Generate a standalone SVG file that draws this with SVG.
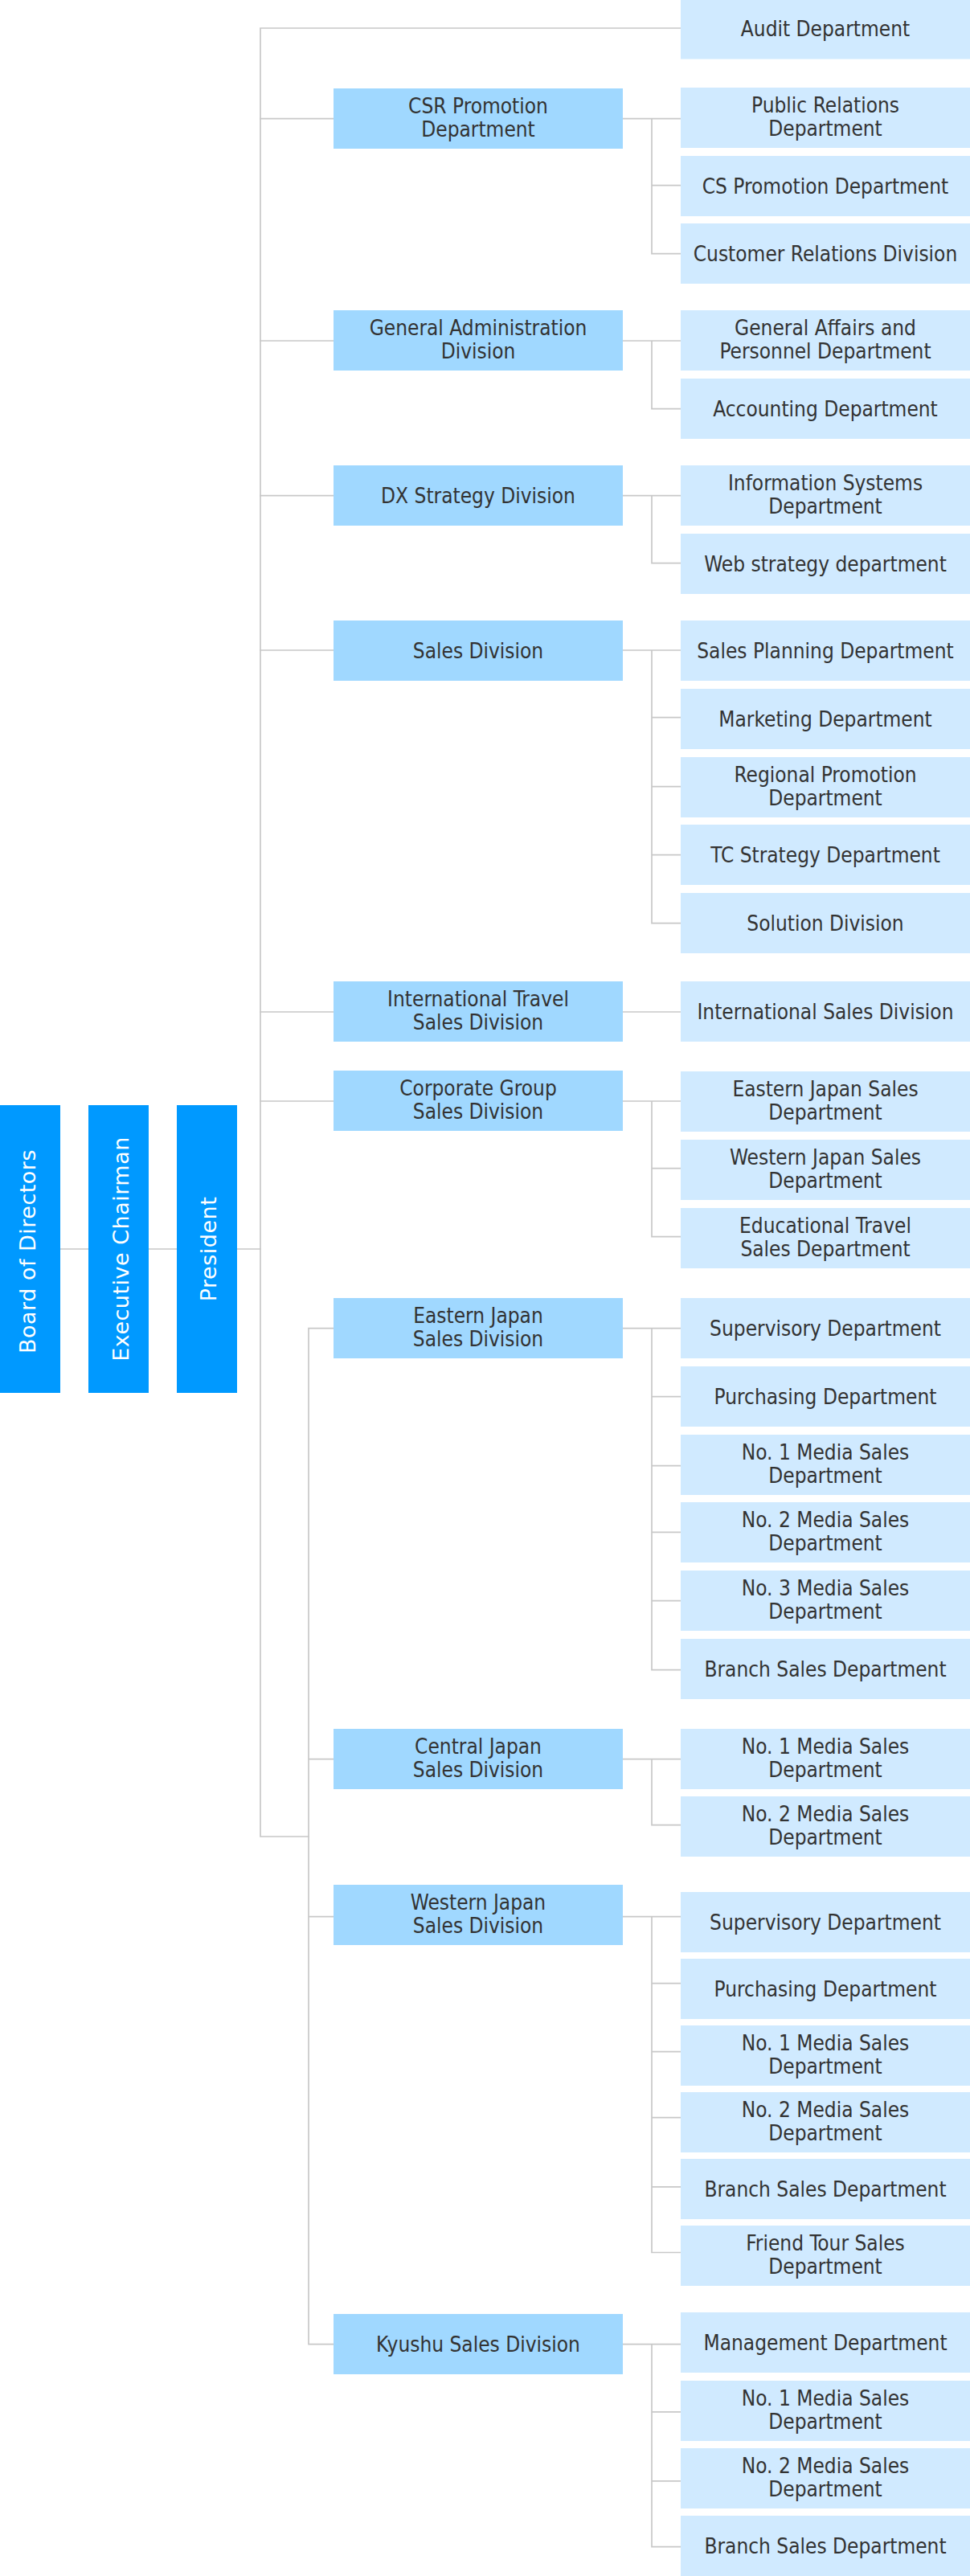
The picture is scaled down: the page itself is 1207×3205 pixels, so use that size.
<svg xmlns="http://www.w3.org/2000/svg" width="1207" height="3205" viewBox="0 0 1207 3205">
<style>
.bg{fill:#ffffff}
.top{fill:#0099ff}
.div{fill:#a0d8ff}
.dept{fill:#d0eaff}
.t{font-family:"DejaVu Sans Condensed","DejaVu Sans",sans-serif;font-stretch:condensed;font-size:26px;fill:#333333;text-anchor:middle}
.tv{font-family:"DejaVu Sans",sans-serif;font-size:27px;letter-spacing:0.5px;fill:#ffffff;text-anchor:middle}
.ln{fill:none;stroke:#c8c8c8;stroke-width:1.7;stroke-linecap:square}
</style>
<rect class="bg" x="0" y="0" width="1207" height="3205"/>
<g id="connectors" class="ln">
<path d="M75 1554H110M185 1554H220M295 1554H324"/>
<path d="M324 35V2285H384M324 35H847"/>
<path d="M324 147.7H415M324 424H415M324 616.7H415M324 809H415M324 1259H415M324 1370H415"/>
<path d="M384 1652.7V2916.7M384 1652.7H415M384 2188.7H415M384 2384.7H415M384 2916.7H415"/>
<path d="M775 147.7H847M811 147.7V315.7M811 230.7H847M811 315.7H847"/>
<path d="M775 424H847M811 424V508.7H847"/>
<path d="M775 616.7H847M811 616.7V700.7H847"/>
<path d="M775 809H847M811 809V1148.7H847M811 892.7H847M811 978.7H847M811 1063.7H847"/>
<path d="M775 1259H847"/>
<path d="M775 1370H847M811 1370V1538.7H847M811 1453.7H847"/>
<path d="M775 1652.7H847M811 1652.7V2077.7H847M811 1737.7H847M811 1823.7H847M811 1906.3H847M811 1991.7H847"/>
<path d="M775 2188.7H847M811 2188.7V2270.7H847"/>
<path d="M775 2384.7H847M811 2384.7V2802.5H847M811 2467.7H847M811 2552.7H847M811 2634.7H847M811 2720.8H847"/>
<path d="M775 2916.7H847M811 2916.7V3168.7H847M811 3000.8H847M811 3086.9H847"/>
</g>
<g id="board"><rect class="top" x="0" y="1375" width="75" height="358"/><text class="tv" transform="translate(43.5 1557) rotate(-90)">Board of Directors</text></g>
<g id="chairman"><rect class="top" x="110" y="1375" width="75" height="358"/><text class="tv" transform="translate(159.5 1554) rotate(-90)">Executive Chairman</text></g>
<g id="president"><rect class="top" x="220" y="1375" width="75" height="358"/><text class="tv" transform="translate(268.5 1554) rotate(-90)">President</text></g>

<g id="div-csr"><rect class="div" x="415" y="110" width="360" height="75"/><text class="t" x="595" y="140.5">CSR Promotion</text><text class="t" x="595" y="169.5">Department</text></g>
<g id="div-ga"><rect class="div" x="415" y="386" width="360" height="75"/><text class="t" x="595" y="416.5">General Administration</text><text class="t" x="595" y="445.5">Division</text></g>
<g id="div-dx"><rect class="div" x="415" y="579" width="360" height="75"/><text class="t" x="595" y="625.5">DX Strategy Division</text></g>
<g id="div-sales"><rect class="div" x="415" y="772" width="360" height="75"/><text class="t" x="595" y="818.5">Sales Division</text></g>
<g id="div-intl"><rect class="div" x="415" y="1221" width="360" height="75"/><text class="t" x="595" y="1251.5">International Travel</text><text class="t" x="595" y="1280.5">Sales Division</text></g>
<g id="div-corp"><rect class="div" x="415" y="1332" width="360" height="75"/><text class="t" x="595" y="1362.5">Corporate Group</text><text class="t" x="595" y="1391.5">Sales Division</text></g>
<g id="div-ejapan"><rect class="div" x="415" y="1615" width="360" height="75"/><text class="t" x="595" y="1645.5">Eastern Japan</text><text class="t" x="595" y="1674.5">Sales Division</text></g>
<g id="div-central"><rect class="div" x="415" y="2151" width="360" height="75"/><text class="t" x="595" y="2181.5">Central Japan</text><text class="t" x="595" y="2210.5">Sales Division</text></g>
<g id="div-wjapan"><rect class="div" x="415" y="2345" width="360" height="75"/><text class="t" x="595" y="2375.5">Western Japan</text><text class="t" x="595" y="2404.5">Sales Division</text></g>
<g id="div-kyushu"><rect class="div" x="415" y="2879" width="360" height="75"/><text class="t" x="595" y="2925.5">Kyushu Sales Division</text></g>

<g id="d-audit"><rect class="dept" x="847" y="-1.5" width="360" height="75"/><text class="t" x="1027" y="45">Audit Department</text></g>
<g id="d-pr"><rect class="dept" x="847" y="109" width="360" height="75"/><text class="t" x="1027" y="139.5">Public Relations</text><text class="t" x="1027" y="168.5">Department</text></g>
<g id="d-cs"><rect class="dept" x="847" y="194" width="360" height="75"/><text class="t" x="1027" y="240.5">CS Promotion Department</text></g>
<g id="d-crd"><rect class="dept" x="847" y="278" width="360" height="75"/><text class="t" x="1027" y="324.5">Customer Relations Division</text></g>
<g id="d-gap"><rect class="dept" x="847" y="386" width="360" height="75"/><text class="t" x="1027" y="416.5">General Affairs and</text><text class="t" x="1027" y="445.5">Personnel Department</text></g>
<g id="d-acc"><rect class="dept" x="847" y="471" width="360" height="75"/><text class="t" x="1027" y="517.5">Accounting Department</text></g>
<g id="d-is"><rect class="dept" x="847" y="579" width="360" height="75"/><text class="t" x="1027" y="609.5">Information Systems</text><text class="t" x="1027" y="638.5">Department</text></g>
<g id="d-web"><rect class="dept" x="847" y="664" width="360" height="75"/><text class="t" x="1027" y="710.5">Web strategy department</text></g>
<g id="d-sp"><rect class="dept" x="847" y="772" width="360" height="75"/><text class="t" x="1027" y="818.5">Sales Planning Department</text></g>
<g id="d-mkt"><rect class="dept" x="847" y="857" width="360" height="75"/><text class="t" x="1027" y="903.5">Marketing Department</text></g>
<g id="d-rp"><rect class="dept" x="847" y="942" width="360" height="75"/><text class="t" x="1027" y="972.5">Regional Promotion</text><text class="t" x="1027" y="1001.5">Department</text></g>
<g id="d-tc"><rect class="dept" x="847" y="1026" width="360" height="75"/><text class="t" x="1027" y="1072.5">TC Strategy Department</text></g>
<g id="d-sol"><rect class="dept" x="847" y="1111" width="360" height="75"/><text class="t" x="1027" y="1157.5">Solution Division</text></g>
<g id="d-isd"><rect class="dept" x="847" y="1221" width="360" height="75"/><text class="t" x="1027" y="1267.5">International Sales Division</text></g>
<g id="d-ejsd"><rect class="dept" x="847" y="1333" width="360" height="75"/><text class="t" x="1027" y="1363.5">Eastern Japan Sales</text><text class="t" x="1027" y="1392.5">Department</text></g>
<g id="d-wjsd"><rect class="dept" x="847" y="1418" width="360" height="75"/><text class="t" x="1027" y="1448.5">Western Japan Sales</text><text class="t" x="1027" y="1477.5">Department</text></g>
<g id="d-etsd"><rect class="dept" x="847" y="1503" width="360" height="75"/><text class="t" x="1027" y="1533.5">Educational Travel</text><text class="t" x="1027" y="1562.5">Sales Department</text></g>
<g id="d-ej-sup"><rect class="dept" x="847" y="1615" width="360" height="75"/><text class="t" x="1027" y="1661.5">Supervisory Department</text></g>
<g id="d-ej-pur"><rect class="dept" x="847" y="1700" width="360" height="75"/><text class="t" x="1027" y="1746.5">Purchasing Department</text></g>
<g id="d-ej-no1"><rect class="dept" x="847" y="1785" width="360" height="75"/><text class="t" x="1027" y="1815.5">No. 1 Media Sales</text><text class="t" x="1027" y="1844.5">Department</text></g>
<g id="d-ej-no2"><rect class="dept" x="847" y="1869" width="360" height="75"/><text class="t" x="1027" y="1899.5">No. 2 Media Sales</text><text class="t" x="1027" y="1928.5">Department</text></g>
<g id="d-ej-no3"><rect class="dept" x="847" y="1954" width="360" height="75"/><text class="t" x="1027" y="1984.5">No. 3 Media Sales</text><text class="t" x="1027" y="2013.5">Department</text></g>
<g id="d-ej-br"><rect class="dept" x="847" y="2039" width="360" height="75"/><text class="t" x="1027" y="2085.5">Branch Sales Department</text></g>
<g id="d-cj-no1"><rect class="dept" x="847" y="2151" width="360" height="75"/><text class="t" x="1027" y="2181.5">No. 1 Media Sales</text><text class="t" x="1027" y="2210.5">Department</text></g>
<g id="d-cj-no2"><rect class="dept" x="847" y="2235" width="360" height="75"/><text class="t" x="1027" y="2265.5">No. 2 Media Sales</text><text class="t" x="1027" y="2294.5">Department</text></g>
<g id="d-wj-sup"><rect class="dept" x="847" y="2354" width="360" height="75"/><text class="t" x="1027" y="2400.5">Supervisory Department</text></g>
<g id="d-wj-pur"><rect class="dept" x="847" y="2437" width="360" height="75"/><text class="t" x="1027" y="2483.5">Purchasing Department</text></g>
<g id="d-wj-no1"><rect class="dept" x="847" y="2520" width="360" height="75"/><text class="t" x="1027" y="2550.5">No. 1 Media Sales</text><text class="t" x="1027" y="2579.5">Department</text></g>
<g id="d-wj-no2"><rect class="dept" x="847" y="2603" width="360" height="75"/><text class="t" x="1027" y="2633.5">No. 2 Media Sales</text><text class="t" x="1027" y="2662.5">Department</text></g>
<g id="d-wj-br"><rect class="dept" x="847" y="2686" width="360" height="75"/><text class="t" x="1027" y="2732.5">Branch Sales Department</text></g>
<g id="d-wj-ft"><rect class="dept" x="847" y="2769" width="360" height="75"/><text class="t" x="1027" y="2799.5">Friend Tour Sales</text><text class="t" x="1027" y="2828.5">Department</text></g>
<g id="d-ky-mgmt"><rect class="dept" x="847" y="2877" width="360" height="75"/><text class="t" x="1027" y="2923.5">Management Department</text></g>
<g id="d-ky-no1"><rect class="dept" x="847" y="2962" width="360" height="75"/><text class="t" x="1027" y="2992.5">No. 1 Media Sales</text><text class="t" x="1027" y="3021.5">Department</text></g>
<g id="d-ky-no2"><rect class="dept" x="847" y="3046" width="360" height="75"/><text class="t" x="1027" y="3076.5">No. 2 Media Sales</text><text class="t" x="1027" y="3105.5">Department</text></g>
<g id="d-ky-br"><rect class="dept" x="847" y="3130" width="360" height="75"/><text class="t" x="1027" y="3176.5">Branch Sales Department</text></g>
</svg>
